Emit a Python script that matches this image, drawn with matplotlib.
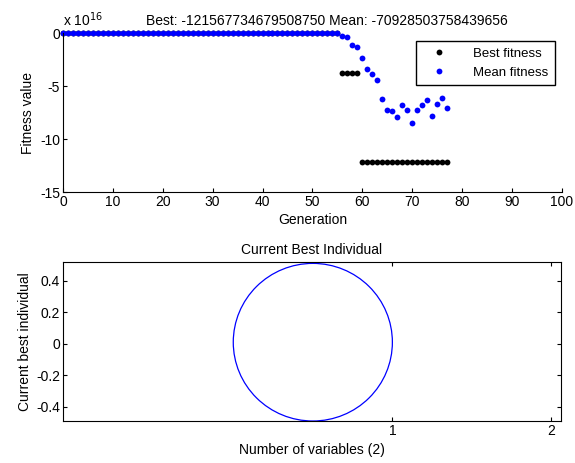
import numpy as np
import matplotlib
matplotlib.use('Agg')
import matplotlib.pyplot as plt
from matplotlib.patches import Ellipse

plt.rcParams['font.family'] = ['Liberation Sans', 'DejaVu Sans']
plt.rcParams['font.size'] = 10
plt.rcParams['axes.unicode_minus'] = False

# fitness values in units of 1e16
best_gen = list(range(0, 78))
best_fit = [0.0] * 56 + [-3.8] * 4 + [-12.157] * 18
mean_gen = list(range(0, 78))
mean_fit = [0.0] * 56 + [-0.22, -0.32, -1.07, -1.29, -2.30, -3.37, -3.87, -4.43,
                         -6.20, -7.27, -7.36, -7.93, -6.73, -7.27, -8.50, -7.27,
                         -6.73, -6.30, -7.84, -6.64, -6.07, -7.09]
title_top = 'Best: -121567734679508750 Mean: -70928503758439656'

gen_ticks = list(range(0, 101, 10))
fit_ticks = [-15, -10, -5, 0]
var_ticks = [1, 2]
indiv_ticks = [-0.4, -0.2, 0, 0.2, 0.4]

fig = plt.figure(figsize=(5.75, 4.63), dpi=100)

# top: fitness per generation
ax1 = fig.add_axes([0.1096, 0.5853, 0.8674, 0.3428])
ax1.plot(best_gen, best_fit, 'o', color='black', markersize=4.2,
         markeredgewidth=0, label='Best fitness', clip_on=False)
ax1.plot(mean_gen, mean_fit, 'o', color='blue', markersize=4.2,
         markeredgewidth=0, label='Mean fitness', clip_on=False)
ax1.set_xlim(0, 100)
ax1.set_ylim(-15, 0)
ax1.set_xticks(gen_ticks)
ax1.set_yticks(fit_ticks)
ax1.spines['top'].set_visible(False)
ax1.spines['right'].set_visible(False)
ax1.tick_params(direction='in', length=3, pad=2, labelsize=10)
ax1.set_xlabel('Generation', labelpad=3)
ax1.set_ylabel('Fitness value', labelpad=4)
ax1.set_title(title_top, fontsize=10, pad=6, x=0.53)
ax1.text(0.0, 1.03, 'x 10$^{16}$', transform=ax1.transAxes, fontsize=10,
         ha='left', va='bottom')
leg = ax1.legend(loc='upper right', bbox_to_anchor=(0.986, 0.951), fontsize=9.5,
                 fancybox=False, edgecolor='black', framealpha=1,
                 handlelength=2.4, handletextpad=1.4, borderpad=0.5,
                 labelspacing=0.5, borderaxespad=0)
leg.get_frame().set_linewidth(1.0)

# bottom: current best individual
ax2 = fig.add_axes([0.1096, 0.0907, 0.8661, 0.3428])
ax2.add_patch(Ellipse((0.5, 0.01), 1.0, 1.0, fill=False, edgecolor='blue',
                      linewidth=0.9))
ax2.set_xlim(-1.07, 2.06)
ax2.set_ylim(-0.49, 0.517)
ax2.set_xticks(var_ticks)
ax2.set_yticks(indiv_ticks)
ax2.set_yticklabels(['-0.4', '-0.2', '0', '0.2', '0.4'])
ax2.tick_params(direction='in', length=3, pad=2, labelsize=10,
                top=True, right=True)
ax2.set_xlabel('Number of variables (2)', labelpad=4)
ax2.set_ylabel('Current best individual', labelpad=3)
ax2.set_title('Current Best Individual', fontsize=10, pad=6)

fig.savefig('out.png', dpi=100)
